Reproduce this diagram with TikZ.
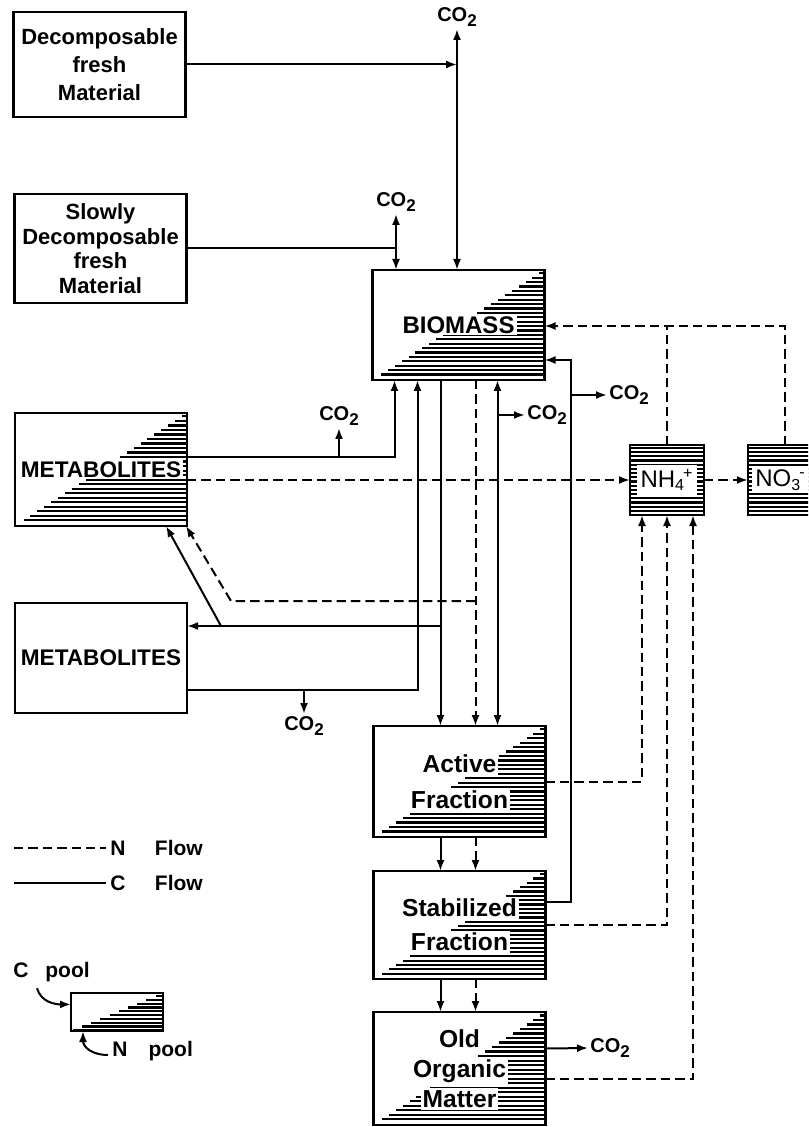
\documentclass[tikz,border=0pt]{standalone}
\usepackage{fontspec}
\setmainfont{Liberation Sans}
\usetikzlibrary{arrows.meta, positioning, calc}

\newcommand{\cotwo}{CO\raisebox{-0.45ex}{\fontsize{8.5}{8.5}\selectfont 2}}
\newcommand{\whitebg}[2][1pt]{{\setlength{\fboxsep}{#1}\colorbox{white}{#2}}}
% shaded N pool: lines under the diagonal
\newcommand{\triHatch}[2]{%
  \foreach \hy in {#2,...,0.99}
    \draw[hatch] ($(#1.north east)!\hy!(#1.south west)$) -- ($(#1.north east)!\hy!(#1.south east)$);}
\newcommand{\fullHatch}[2]{%
  \foreach \hy in {#2,...,0.97}
    \draw[hatch] ($(#1.north west)!\hy!(#1.south west)$) -- ($(#1.north east)!\hy!(#1.south east)$);}

\tikzset{
  pool/.style={rectangle, draw, line width=1.2pt, minimum width=86pt, minimum height=55pt,
               outer sep=0pt, inner sep=0pt, align=center, font=\fontsize{11}{14}\selectfont\bfseries},
  ion/.style={rectangle, draw, line width=1.2pt, minimum width=37pt, minimum height=35pt, outer sep=0pt},
  txt/.style={align=center, inner sep=0pt, font=\fontsize{12.3}{17}\selectfont\bfseries},
  iontxt/.style={inner sep=0pt, font=\fontsize{12}{14}\selectfont},
  co2lbl/.style={inner sep=1pt, font=\fontsize{10}{11}\selectfont\bfseries},
  legtxt/.style={inner sep=2pt, font=\fontsize{10.5}{12}\selectfont\bfseries},
  hatch/.style={line width=1.1pt},
  cline/.style={line width=1pt},
  nline/.style={cline, dash pattern=on 4.7pt off 2.5pt},
  cflow/.style={cline, -{Latex[length=5.5pt,width=4pt]}},
  nflow/.style={nline, -{Latex[length=5.5pt,width=4pt]}},
  cboth/.style={cline, {Latex[length=5.5pt,width=4pt]}-{Latex[length=5.5pt,width=4pt]}},
}

\begin{document}
\begin{tikzpicture}[x=0.5pt, y=-0.5pt]
  \useasboundingbox (0,0) rectangle (808,1127);
  \clip (0,0) rectangle (808,1127);

  % pools
  \node[pool, minimum height=52.5pt] (decomp) at (99.5,64.5) {Decomposable\\fresh\\Material};
  \node[pool, font=\fontsize{11}{12.3}\selectfont\bfseries, minimum height=54.5pt] (slow) at (100.5,248.5) {Slowly\\Decomposable\\fresh\\Material};
  \node[pool] (bio) at (458.5,325) {};
  \node[pool, minimum height=56.5pt] (metaU) at (101,469.5) {};
  \node[pool, font=\fontsize{11.3}{14}\selectfont\bfseries] (metaL) at (101,658) {METABOLITES};
  \node[pool, minimum height=55.5pt] (active) at (459.5,781.5) {};
  \node[pool, minimum height=54pt, below=17pt of active] (stab) {};
  \node[pool, minimum height=56.5pt, below=16.5pt of stab] (old) {};
  \node[ion] (nh4) at (667,480) {};
  \node[ion, right=22pt of nh4] (no3) {};
  \node[pool, minimum width=46pt, minimum height=19pt] (legbox) at (117,1012) {};

  \triHatch{bio}{0.03,0.07}
  \triHatch{metaU}{0.03,0.07}
  \triHatch{active}{0.03,0.07}
  \triHatch{stab}{0.03,0.07}
  \triHatch{old}{0.03,0.07}
  \triHatch{legbox}{0.08,0.18}
  \fullHatch{nh4}{0.04,0.1}
  \fullHatch{no3}{0.04,0.1}

  \node[txt, font=\fontsize{12}{14}\selectfont\bfseries] (bio-t) at (bio) {\whitebg{BIOMASS}};
  \node[txt, font=\fontsize{11.3}{14}\selectfont\bfseries] (metaU-t) at (metaU) {\whitebg{METABOLITES}};
  \node[txt, font=\fontsize{12.3}{18}\selectfont\bfseries] (active-t) at (active) {\whitebg{Active}\\\whitebg{Fraction}};
  \node[txt] (stab-t) at (stab) {\whitebg{Stabilized}\\\whitebg{Fraction}};
  \node[txt, font=\fontsize{12.3}{15}\selectfont\bfseries] (old-t) at (old) {\whitebg{Old}\\\whitebg{Organic}\\\whitebg{Matter}};
  \node[iontxt] (nh4-t) at (nh4) {\whitebg[2pt]{NH\textsubscript{4}\kern-1pt\textsuperscript{+}}};
  \node[iontxt, anchor=west] (no3-t) at ($(no3.west)+(4,0)$) {\whitebg[1.5pt]{NO\textsubscript{3}\kern-1pt\textsuperscript{-}}};

  % CO2 outlets
  \node[co2lbl, anchor=south] (co2a) at (457,29) {\cotwo};
  \node[co2lbl, anchor=south] (co2b) at (396,214) {\cotwo};
  \node[co2lbl, anchor=south] (co2c) at (339,428) {\cotwo};
  \node[co2lbl, anchor=north] (co2d) at (304,714) {\cotwo};
  \node[co2lbl, anchor=west] (co2e) at (525,415) {\cotwo};
  \node[co2lbl, anchor=west] (co2f) at (607,395) {\cotwo};
  \node[co2lbl, anchor=west] (co2g) at (588,1048) {\cotwo};

  % fresh material
  \draw[cflow] (decomp.east) -- (decomp.east -| co2a);
  \draw[cflow] (decomp.east -| co2a) -- (co2a.south);
  \draw[cflow] (decomp.east -| co2a) -- (co2a |- bio.north);
  \draw[cline] (slow.east) -- (slow.east -| co2b);
  \draw[cflow] (slow.east -| co2b) -- (co2b.south);
  \draw[cflow] (slow.east -| co2b) -- (co2b |- bio.north);

  % biomass bottom
  \coordinate (b1) at ($(bio.south west)+(22,0)$);
  \coordinate (b2) at ($(bio.south west)+(45,0)$);
  \coordinate (b3) at ($(bio.south west)+(68,0)$);
  \coordinate (b4) at ($(bio.south west)+(103,0)$);
  \coordinate (b5) at ($(bio.south west)+(125,0)$);

  % metabolites
  \coordinate (mu1) at ($(metaU.north east)+(0,44)$);
  \draw[cflow] (mu1) -| (b1);
  \draw[cflow] (mu1 -| co2c) -- (co2c.south);
  \draw[nflow] (metaU.east |- nh4.west) -- (nh4.west);
  \coordinate (ml1) at ($(metaL.south east)+(0,-23)$);
  \draw[cflow] (ml1) -| (b2);
  \draw[cflow] (ml1 -| co2d) -- (co2d.north);
  \coordinate (ml2) at ($(metaL.north east)+(0,23)$);
  \coordinate (mu2) at ($(metaL.north east)+(44,-2)$);
  \draw[cflow] (b3) -- (b3 |- active.north);
  \draw[cflow] (ml2 -| b3) -- (ml2);
  \draw[cflow] ($(ml2)+(34,0)$) -- ($(metaU.south west)+(151,0)$);
  \draw[nflow] (b4) -- (b4 |- active.north);
  \draw[nflow] (b4 |- mu2) -- (mu2) -- ($(metaU.south east)+(-1,0)$);
  \draw[cboth] (b5) -- (b5 |- active.north);
  \draw[cflow] (b5 |- co2e.west) -- (co2e.west);

  % humus fractions
  \draw[cflow] (b3 |- active.south) -- (b3 |- stab.north);
  \draw[nflow] (b4 |- active.south) -- (b4 |- stab.north);
  \draw[cflow] (b3 |- stab.south) -- (b3 |- old.north);
  \draw[nflow] (b4 |- stab.south) -- (b4 |- old.north);
  \draw[cflow] ($(old.east)+(0,-20)$) -- (co2g.west);
  \coordinate (s1) at ($(stab.north east)+(0,31)$);
  \coordinate (x1) at ($(s1)+(25,0)$);
  \draw[cflow] (s1) -- (x1) |- ($(bio.south east)+(0,-20)$);
  \draw[cflow] (x1 |- co2f.west) -- (co2f.west);

  % mineral N
  \draw[nflow] (active.east) -| ($(nh4.south west)+(12,0)$);
  \draw[nflow] (stab.east) -| (nh4.south);
  \draw[nflow] ($(old.east)+(0,10)$) -| ($(nh4.south east)+(-11,0)$);
  \draw[nflow] (nh4.east) -- (no3.west);
  \coordinate (bi1) at ($(bio.north east)+(0,56)$);
  \draw[nflow] (no3.north) |- (bi1);
  \draw[nline] (nh4.north) -- (nh4.north |- bi1);

  % legend
  \coordinate (legN) at (14,848);
  \node[legtxt, anchor=west] (nflow-t) at (106,848) {N\hspace{1.4em}Flow};
  \draw[nline] (legN) -- (nflow-t.west);
  \coordinate (legC) at (14,883);
  \node[legtxt, anchor=west] (cflow-t) at (106,883) {C\hspace{1.4em}Flow};
  \draw[cline] (legC) -- (cflow-t.west);
  \node[legtxt, anchor=west] (cpool) at (9,972) {C\hspace{0.8em}pool};
  \node[legtxt, anchor=west] (npool) at (108,1051) {N\hspace{1em}pool};
  \draw[cflow] ($(cpool.south west)+(28,2)$) .. controls +(4,14) and +(-16,0) .. ($(legbox.north west)!0.3!(legbox.south west)$);
  \draw[cflow] ($(npool.west)+(0,4)$) .. controls +(-16,0) and +(0,16) .. ($(legbox.south west)+(12,0)$);
\end{tikzpicture}
\end{document}
